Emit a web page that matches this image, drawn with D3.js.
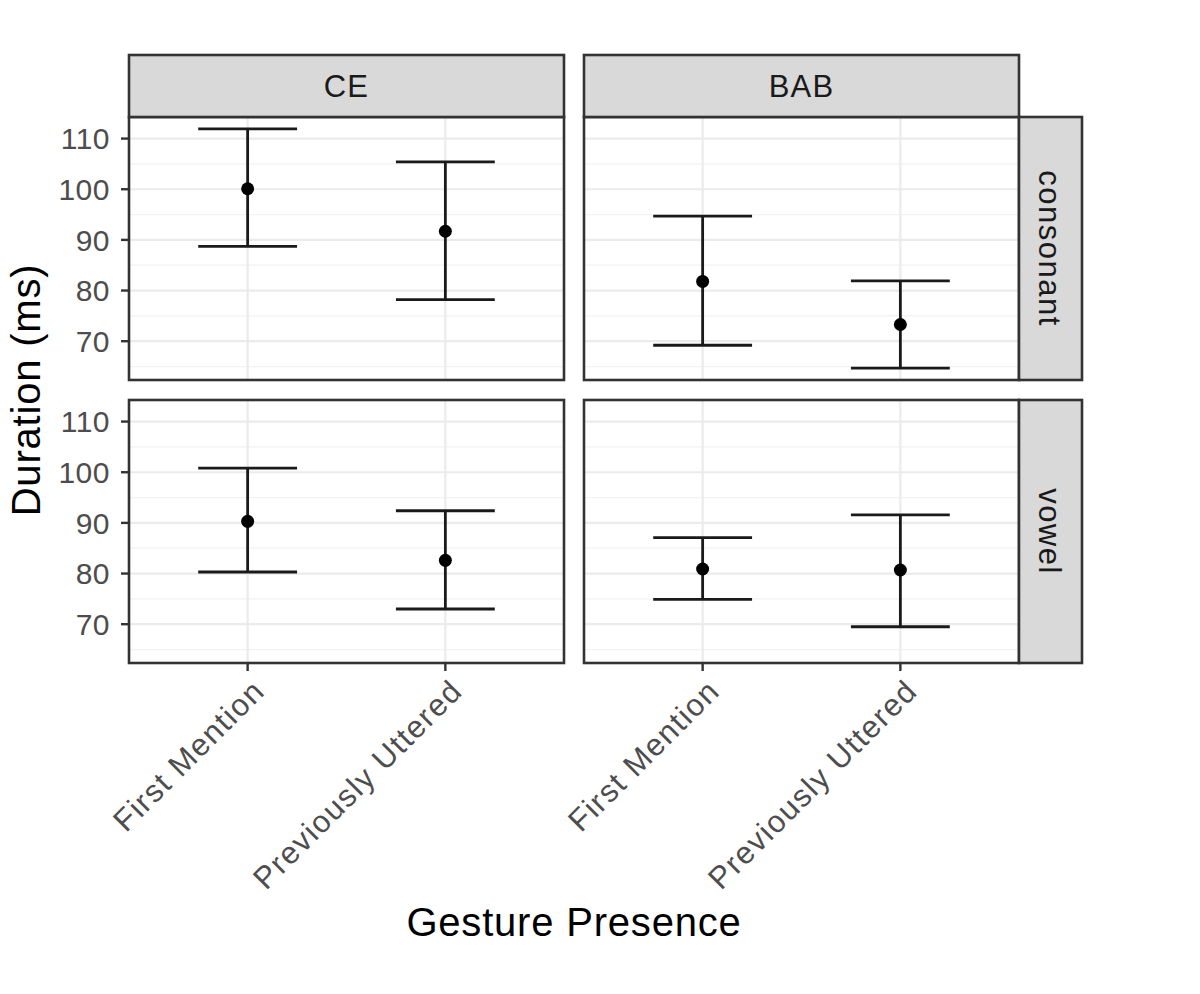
<!DOCTYPE html>
<html>
<head>
<meta charset="utf-8">
<script src="https://cdn.jsdelivr.net/npm/d3@7"></script>
<style>
    body { margin: 0; background: #fff; }
    svg { font-family: "Liberation Sans", Arial, sans-serif; }
</style>
</head>
<body>
<svg id="chart" width="1200" height="994"></svg>
<script>
// facets
const speakers = ["CE", "BAB"];
const segments = ["consonant", "vowel"];
const conditions = ["First Mention", "Previously Uttered"];

// one entry per error bar (long format)
const rowSpeaker = ["CE", "CE", "BAB", "BAB", "CE", "CE", "BAB", "BAB"];
const rowSegment = ["consonant", "consonant", "consonant", "consonant", "vowel", "vowel", "vowel", "vowel"];
const rowCondition = ["First Mention", "Previously Uttered", "First Mention", "Previously Uttered",
                      "First Mention", "Previously Uttered", "First Mention", "Previously Uttered"];
const meanMs = [100.1, 91.7, 81.8, 73.3, 90.3, 82.6, 80.9, 80.7];
const lowerMs = [88.7, 78.2, 69.2, 64.7, 80.3, 73.0, 74.9, 69.5];
const upperMs = [111.9, 105.4, 94.7, 81.9, 100.8, 92.4, 87.1, 91.6];

const yTicks = [70, 80, 90, 100, 110];
const yMinorTicks = [65, 75, 85, 95, 105];

class FacetVis {
    constructor(svg_id) {
        this.svg_id = svg_id;
        this.width = 1200;
        this.height = 994;
        this.render();
    }

    render() {
        let svg = d3.select("#" + this.svg_id);

        let data = meanMs.map(function(m, i) {
            return {
                speaker: rowSpeaker[i],
                segment: rowSegment[i],
                condition: rowCondition[i],
                mean: m,
                lo: lowerMs[i],
                hi: upperMs[i]
            };
        });

        // panel layout
        var colX = [129, 584];
        var panelW = 435;
        var rowY = [117, 400];
        var panelH = 263;
        var stripTop = 55;
        var stripW = 63;
        var border = "#333333";

        // y domain like ggplot: data range + 5%
        var lo = d3.min(data, d => d.lo);
        var hi = d3.max(data, d => d.hi);
        var pad = (hi - lo) * 0.05;

        var y = d3.scaleLinear()
            .domain([lo - pad, hi + pad])
            .range([panelH, 0]);

        // discrete x with 0.6 expansion each side
        var x = d3.scaleLinear()
            .domain([0.4, conditions.length + 0.6])
            .range([0, panelW]);
        var xPos = function(c) { return x(conditions.indexOf(c) + 1); };
        var capHalf = x(1.25) - x(1);

        segments.forEach(function(seg, r) {
            speakers.forEach(function(spk, c) {
                let g = svg.append("g")
                    .attr("transform", "translate(" + colX[c] + "," + rowY[r] + ")");

                g.append("rect")
                    .attr("width", panelW).attr("height", panelH)
                    .attr("fill", "#fff");

                g.selectAll("line.minor")
                    .data(yMinorTicks).enter().append("line")
                    .attr("x1", 0).attr("x2", panelW)
                    .attr("y1", d => y(d)).attr("y2", d => y(d))
                    .attr("stroke", "#F2F2F2").attr("stroke-width", 1.2);

                g.selectAll("line.major")
                    .data(yTicks).enter().append("line")
                    .attr("x1", 0).attr("x2", panelW)
                    .attr("y1", d => y(d)).attr("y2", d => y(d))
                    .attr("stroke", "#EBEBEB").attr("stroke-width", 2.2);

                g.selectAll("line.vgrid")
                    .data(conditions).enter().append("line")
                    .attr("x1", d => xPos(d)).attr("x2", d => xPos(d))
                    .attr("y1", 0).attr("y2", panelH)
                    .attr("stroke", "#EBEBEB").attr("stroke-width", 2.2);

                let sub = data.filter(d => d.speaker == spk && d.segment == seg);

                // error bars
                let eb = g.selectAll("g.eb").data(sub).enter().append("g")
                    .attr("stroke", "#1a1a1a").attr("stroke-width", 2.8);
                eb.append("line")
                    .attr("x1", d => xPos(d.condition)).attr("x2", d => xPos(d.condition))
                    .attr("y1", d => y(d.lo)).attr("y2", d => y(d.hi));
                eb.append("line")
                    .attr("x1", d => xPos(d.condition) - capHalf).attr("x2", d => xPos(d.condition) + capHalf)
                    .attr("y1", d => y(d.hi)).attr("y2", d => y(d.hi));
                eb.append("line")
                    .attr("x1", d => xPos(d.condition) - capHalf).attr("x2", d => xPos(d.condition) + capHalf)
                    .attr("y1", d => y(d.lo)).attr("y2", d => y(d.lo));

                g.selectAll("circle").data(sub).enter().append("circle")
                    .attr("cx", d => xPos(d.condition))
                    .attr("cy", d => y(d.mean))
                    .attr("r", 6.5)
                    .attr("fill", "#000");

                g.append("rect")
                    .attr("width", panelW).attr("height", panelH)
                    .attr("fill", "none").attr("stroke", border).attr("stroke-width", 2.6);

                // y axis on left column
                if (c == 0) {
                    let ya = g.append("g");
                    ya.selectAll("line").data(yTicks).enter().append("line")
                        .attr("x1", -8).attr("x2", 0)
                        .attr("y1", d => y(d)).attr("y2", d => y(d))
                        .attr("stroke", border).attr("stroke-width", 2.4);
                    ya.selectAll("text").data(yTicks).enter().append("text")
                        .attr("x", -19).attr("y", d => y(d))
                        .attr("dy", "0.36em")
                        .attr("text-anchor", "end")
                        .attr("font-size", "30px")
                        .attr("letter-spacing", "0.5px")
                        .attr("fill", "#4D4D4D")
                        .text(d => d);
                }

                // x axis on bottom row
                if (r == segments.length - 1) {
                    let xa = g.append("g").attr("transform", "translate(0," + panelH + ")");
                    xa.selectAll("line").data(conditions).enter().append("line")
                        .attr("x1", d => xPos(d)).attr("x2", d => xPos(d))
                        .attr("y1", 0).attr("y2", 8)
                        .attr("stroke", border).attr("stroke-width", 2.4);
                    xa.selectAll("text").data(conditions).enter().append("text")
                        .attr("transform", d => "translate(" + (xPos(d) + 3) + ",14) rotate(-45)")
                        .attr("dy", "0.72em")
                        .attr("text-anchor", "end")
                        .attr("font-size", "31px")
                        .attr("letter-spacing", "1.5px")
                        .attr("fill", "#4D4D4D")
                        .text(d => d);
                }

                // column strip
                if (r == 0) {
                    g.append("rect")
                        .attr("x", 0).attr("y", stripTop - rowY[0])
                        .attr("width", panelW).attr("height", rowY[0] - stripTop)
                        .attr("fill", "#D9D9D9").attr("stroke", border).attr("stroke-width", 2.6);
                    g.append("text")
                        .attr("x", panelW / 2).attr("y", (stripTop - rowY[0]) / 2)
                        .attr("dy", "0.36em")
                        .attr("text-anchor", "middle")
                        .attr("font-size", "31px")
                        .attr("letter-spacing", "1.2px")
                        .attr("fill", "#1A1A1A")
                        .text(spk);
                }

                // row strip
                if (c == speakers.length - 1) {
                    g.append("rect")
                        .attr("x", panelW).attr("y", 0)
                        .attr("width", stripW).attr("height", panelH)
                        .attr("fill", "#D9D9D9").attr("stroke", border).attr("stroke-width", 2.6);
                    g.append("text")
                        .attr("transform", "translate(" + (panelW + stripW / 2) + "," + (panelH / 2) + ") rotate(90)")
                        .attr("dy", "0.36em")
                        .attr("text-anchor", "middle")
                        .attr("font-size", "31px")
                        .attr("letter-spacing", "1.5px")
                        .attr("fill", "#1A1A1A")
                        .text(seg);
                }
            });
        });

        // axis titles
        svg.append("text")
            .attr("transform", "translate(40," + ((rowY[0] + rowY[1] + panelH) / 2) + ") rotate(-90)")
            .attr("text-anchor", "middle")
            .attr("font-size", "40px")
            .attr("letter-spacing", "0.8px")
            .attr("fill", "#000")
            .text("Duration (ms)");

        svg.append("text")
            .attr("x", (colX[0] + colX[1] + panelW) / 2)
            .attr("y", 936)
            .attr("text-anchor", "middle")
            .attr("font-size", "40px")
            .attr("letter-spacing", "0.8px")
            .attr("fill", "#000")
            .text("Gesture Presence");
    }
}

new FacetVis("chart");
</script>
</body>
</html>
